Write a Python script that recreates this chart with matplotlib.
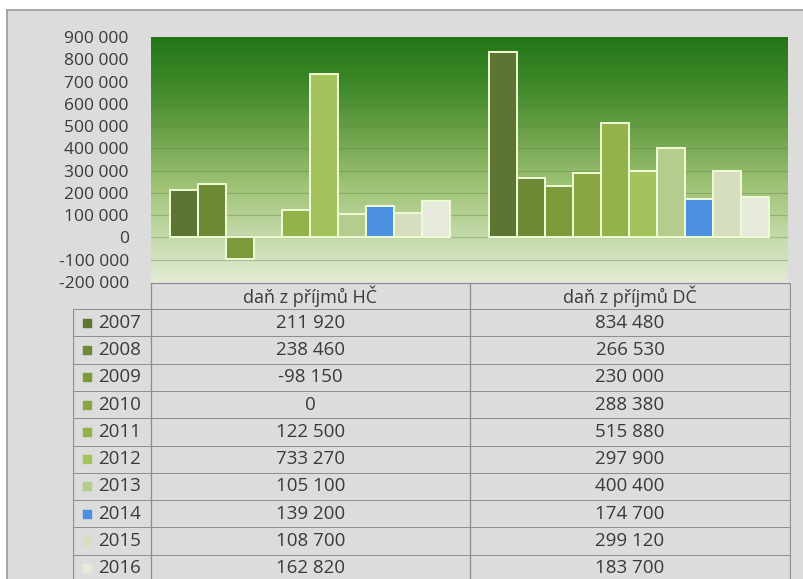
import numpy as np
from matplotlib import pyplot as plt
from matplotlib.colors import LinearSegmentedColormap

# data
roky = ["2007", "2008", "2009", "2010", "2011", "2012", "2013", "2014", "2015", "2016"]
kategorie = ["daň z příjmů HČ", "daň z příjmů DČ"]
dan_hc = [211920, 238460, -98150, 0, 122500, 733270, 105100, 139200, 108700, 162820]
dan_dc = [834480, 266530, 230000, 288380, 515880, 297900, 400400, 174700, 299120, 183700]
barvy = ["#5e7432", "#6e8a36", "#7c9a3a", "#8aa642", "#93b34a",
         "#a4c35c", "#b4cc8c", "#4a8fe0", "#d6dec0", "#e6eadc"]

W, H = 804, 579
plt.rcParams['font.family'] = ['Open Sans', 'DejaVu Sans']

fig = plt.figure(figsize=(W / 100, H / 100), dpi=100)
fig.patch.set_facecolor("white")


def px(x0, y0, x1, y1):
    # pixel box -> figure fraction
    return [x0 / W, 1 - y1 / H, (x1 - x0) / W, (y1 - y0) / H]


# outer grey frame
bg = fig.add_axes(px(7, 10, 804, 579), zorder=0)
bg.set_facecolor("#dcdcdc")
bg.set_xticks([])
bg.set_yticks([])
for s in ["right", "bottom"]:
    bg.spines[s].set_visible(False)
for s in ["left", "top"]:
    bg.spines[s].set_color("#9a9a9a")
    bg.spines[s].set_linewidth(1.2)

# plot area
ax = fig.add_axes(px(151, 37, 788, 282), zorder=2)
ax.set_xlim(-0.5, 1.5)
ax.set_ylim(-200000, 900000)

zelena = LinearSegmentedColormap.from_list(
    "zel", ["#e2ebd4", "#c2d8a6", "#9dc274", "#6ea24a", "#3f8a2a", "#237516"])
grad = np.linspace(0, 1, 256).reshape(-1, 1)
ax.imshow(grad, cmap=zelena, origin="lower", aspect="auto",
          extent=[-0.5, 1.5, -200000, 900000], zorder=0)

for v in range(-100000, 900000, 100000):
    ax.axhline(v, color="#4f7f3a", alpha=0.35, lw=0.9, zorder=1)

n = len(roky)
sirka = 0.88 / n
x = np.arange(len(kategorie))
for i in range(n):
    off = (i - (n - 1) / 2) * sirka
    ax.bar(x + off, [dan_hc[i], dan_dc[i]], width=sirka, color=barvy[i],
           edgecolor="#f0fbd6", linewidth=1.4, zorder=3)

for s in ax.spines.values():
    s.set_visible(False)
ax.set_xticks([])
ticks = list(range(-200000, 900001, 100000))
ax.set_yticks(ticks)
ax.set_yticklabels([f"{t:,}".replace(",", " ") for t in ticks],
                   fontsize=12.5, color="#3a3a3a")
ax.tick_params(axis="y", length=0, pad=16)

# data table
tb = fig.add_axes(px(73, 283, 791, 582), zorder=2)
tb.set_xlim(73, 791)
tb.set_ylim(582, 283)
tb.axis("off")
tb.set_clip_on(False)

lc = "#8c8c8c"
hlava = 309
radek = 27.3
sloupce = [151, 470, 790]
konec = hlava + radek * n

tb.plot([151, 151], [283, konec], color=lc, lw=0.9)
tb.plot([470, 470], [283, konec], color=lc, lw=0.9)
tb.plot([790, 790], [283, konec], color=lc, lw=0.9)
tb.plot([73, 73], [hlava, konec], color=lc, lw=0.9)
tb.plot([151, 790], [283, 283], color=lc, lw=0.9)
for r in range(n):
    y = hlava + r * radek
    tb.plot([73, 790], [y, y], color=lc, lw=0.7)

stredy = [(sloupce[0] + sloupce[1]) / 2, (sloupce[1] + sloupce[2]) / 2]
for j, k in enumerate(kategorie):
    tb.text(stredy[j], (283 + hlava) / 2, k, ha="center", va="center",
            fontsize=13, color="#3a3a3a")

for i in range(n):
    yc = hlava + (i + 0.5) * radek
    tb.scatter([87], [yc], marker="s", s=30, color=barvy[i], zorder=4)
    tb.text(98, yc, roky[i], ha="left", va="center", fontsize=13.5, color="#3a3a3a")
    for j, hodnoty in enumerate([dan_hc, dan_dc]):
        tb.text(stredy[j], yc, f"{hodnoty[i]:,}".replace(",", " "),
                ha="center", va="center", fontsize=13.5, color="#3a3a3a")

fig.savefig("out.png", dpi=100)
